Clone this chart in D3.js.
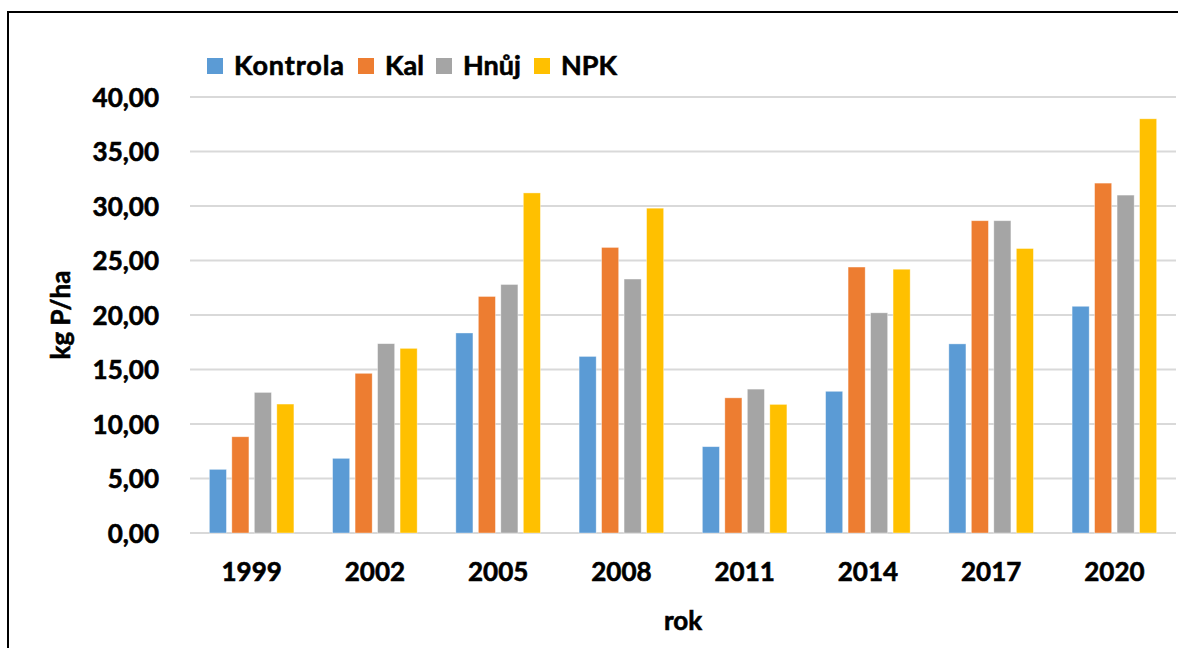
<!DOCTYPE html>
<meta charset="utf-8">
<script src="https://d3js.org/d3.v7.min.js"></script>
<style>
    body { margin: 0; background: #fff; }
    .tick-label, .legend-label, .axis-title {
        font-family: Lato, 'Open Sans', sans-serif;
        font-weight: bold;
        fill: #000;
        stroke: #000;
        stroke-width: 0.6px;
    }
    .grid line { stroke: #d9d9d9; stroke-width: 2px; }
</style>
<div id="chart"></div>
<script>
    // data
    let years = ["1999", "2002", "2005", "2008", "2011", "2014", "2017", "2020"];
    let series = ["Kontrola", "Kal", "Hnůj", "NPK"];
    let kontrola = [5.84, 6.85, 18.35, 16.2, 7.92, 13.0, 17.35, 20.8];
    let kal = [8.83, 14.65, 21.7, 26.2, 12.4, 24.4, 28.65, 32.1];
    let hnuj = [12.9, 17.37, 22.8, 23.3, 13.2, 20.2, 28.65, 31.0];
    let npk = [11.83, 16.94, 31.2, 29.8, 11.8, 24.2, 26.1, 38.0];
    let yTicks = [0, 5, 10, 15, 20, 25, 30, 35, 40];
    let colors = ["#5b9bd5", "#ed7d31", "#a5a5a5", "#ffc000"];

    let values = [kontrola, kal, hnuj, npk];
    let width = 1178, height = 648;
    let margin = {top: 97, right: 2, bottom: 115, left: 190};

    let svg = d3.select("#chart")
        .append("svg")
        .attr("width", width)
        .attr("height", height);

    // outer frame
    svg.append("rect")
        .attr("x", 8).attr("y", 12)
        .attr("width", 1200).attr("height", 700)
        .attr("fill", "none")
        .attr("stroke", "#000")
        .attr("stroke-width", 2);

    let x = d3.scaleBand()
        .domain(years)
        .range([margin.left, width - margin.right]);

    let xs = d3.scaleBand()
        .domain(series)
        .range([0, x.bandwidth()])
        .paddingInner(0.24)
        .paddingOuter(0.86);

    let y = d3.scaleLinear()
        .domain([0, 40])
        .range([height - margin.bottom, margin.top]);

    // gridlines
    svg.append("g")
        .attr("class", "grid")
        .selectAll("line")
        .data(yTicks)
        .enter()
        .append("line")
        .attr("x1", margin.left)
        .attr("x2", width - margin.right)
        .attr("y1", d => y(d))
        .attr("y2", d => y(d));

    // bars
    for (let s = 0; s < series.length; s++) {
        svg.append("g")
            .selectAll("rect")
            .data(values[s])
            .enter()
            .append("rect")
            .attr("x", (d, i) => x(years[i]) + xs(series[s]))
            .attr("y", d => y(d))
            .attr("width", xs.bandwidth())
            .attr("height", d => y(0) - y(d))
            .attr("fill", colors[s])
            .attr("stroke", "#fff")
            .attr("stroke-opacity", 0.5)
            .attr("stroke-width", 0.75);
    }

    // y axis labels
    let yAxis = svg.append("g")
        .attr("transform", "translate(" + (margin.left - 31) + ",0)")
        .call(d3.axisLeft(y).tickValues(yTicks).tickSize(0).tickPadding(0)
            .tickFormat(d => d3.format(".2f")(d).replace(".", ",")));
    yAxis.select(".domain").remove();
    yAxis.selectAll("text")
        .attr("class", "tick-label")
        .style("font-size", "26px")
        .attr("dy", "0.35em");

    // x axis labels
    let xAxis = svg.append("g")
        .attr("transform", "translate(0," + (height - margin.bottom + 30) + ")")
        .call(d3.axisBottom(x).tickSize(0).tickPadding(0));
    xAxis.select(".domain").remove();
    xAxis.selectAll("text")
        .attr("class", "tick-label")
        .style("font-size", "26px")
        .attr("dy", "0.71em");

    // axis titles
    svg.append("text")
        .attr("class", "axis-title")
        .attr("transform", "translate(70," + ((y(0) + y(40)) / 2) + ") rotate(-90)")
        .attr("text-anchor", "middle")
        .style("font-size", "26px")
        .text("kg P/ha");

    svg.append("text")
        .attr("class", "axis-title")
        .attr("x", (margin.left + width - margin.right) / 2)
        .attr("y", 630)
        .attr("text-anchor", "middle")
        .style("font-size", "26px")
        .text("rok");

    // legend
    let legendX = [207, 358, 436, 534];
    let legend = svg.append("g");
    for (let s = 0; s < series.length; s++) {
        legend.append("rect")
            .attr("x", legendX[s])
            .attr("y", 58)
            .attr("width", 16)
            .attr("height", 16)
            .attr("fill", colors[s]);
        legend.append("text")
            .attr("class", "legend-label")
            .attr("x", legendX[s] + 27)
            .attr("y", 75)
            .style("font-size", "27px")
            .attr("textLength", s === 0 ? 110 : null)
            .text(series[s]);
    }
</script>
